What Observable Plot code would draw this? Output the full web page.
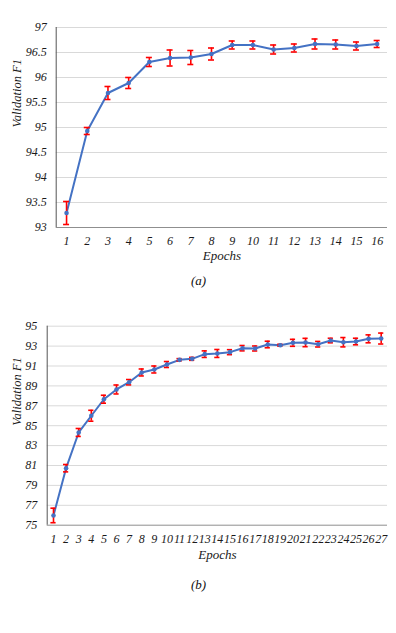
<!DOCTYPE html>
<html><head><meta charset="utf-8">
<script src="https://cdn.jsdelivr.net/npm/d3@7"></script>
<script src="https://cdn.jsdelivr.net/npm/@observablehq/plot@0.6"></script>
<style>
html,body{margin:0;padding:0;background:#fff;}
#wrap{position:relative;width:396px;height:633px;overflow:hidden;}
#wrap svg{position:absolute;left:0;display:block;}
#wrap svg, #wrap svg text, #wrap svg tspan{font-family:"Liberation Serif","Times New Roman",Times,serif !important;font-style:italic;}
</style></head><body><div id="wrap"></div>
<script>
// ---- Chart (a) ----
const epochsA = [1,2,3,4,5,6,7,8,9,10,11,12,13,14,15,16];
const f1A = [93.29, 94.93, 95.69, 95.89, 96.31, 96.39, 96.40, 96.47, 96.65, 96.65, 96.56, 96.59, 96.67, 96.66, 96.63, 96.67];
const errA = [0.23, 0.07, 0.13, 0.11, 0.09, 0.16, 0.14, 0.12, 0.08, 0.08, 0.09, 0.08, 0.10, 0.09, 0.08, 0.07];
const yTicksA = [93, 93.5, 94, 94.5, 95, 95.5, 96, 96.5, 97];

// ---- Chart (b) ----
const epochsB = [1,2,3,4,5,6,7,8,9,10,11,12,13,14,15,16,17,18,19,20,21,22,23,24,25,26,27];
const f1B = [75.98, 80.73, 84.32, 86.00, 87.66, 88.64, 89.37, 90.35, 90.65, 91.15, 91.62, 91.72, 92.19, 92.26, 92.39, 92.79, 92.76, 93.16, 93.09, 93.33, 93.36, 93.19, 93.56, 93.39, 93.46, 93.73, 93.76];
const errB = [0.73, 0.37, 0.40, 0.55, 0.40, 0.45, 0.27, 0.35, 0.35, 0.30, 0.12, 0.15, 0.33, 0.40, 0.25, 0.27, 0.25, 0.33, 0.10, 0.35, 0.42, 0.28, 0.23, 0.47, 0.33, 0.40, 0.55];
const yTicksB = [75, 77, 79, 81, 83, 85, 87, 89, 91, 93, 95];

const xLabel = "Epochs";
const yLabel = "Validation F1";
const FONT = "'Liberation Serif', 'Times New Roman', Times, serif";

function chart(o) {
  const data = o.epochs.map((e, i) => ({e, v: o.f1[i], lo: o.f1[i] - o.err[i], hi: o.f1[i] + o.err[i]}));
  const n = o.epochs.length;
  const plotW = o.width - o.ml - o.mr;
  const capHalf = o.capPx * n / plotW;
  const y0 = o.yTicks[0], y1 = o.yTicks[o.yTicks.length - 1];
  const frameCx = o.ml + plotW / 2;
  return Plot.plot({
    width: o.width, height: o.height,
    marginTop: o.mt, marginBottom: o.mb, marginLeft: o.ml, marginRight: o.mr,
    style: {fontFamily: FONT, fontStyle: "italic", fontSize: "12px", color: "#1a1a1a", background: "#fff", overflow: "visible"},
    x: {domain: [0.5, n + 0.5], ticks: o.epochs, tickSize: 0, tickPadding: o.xPad, tickFormat: d => String(d), label: null},
    y: {domain: [y0, y1], ticks: o.yTicks, tickSize: 0, tickPadding: o.yPad, tickFormat: d => String(d), label: null},
    marks: [
      Plot.gridY(o.yTicks.slice(1), {stroke: "#d9d9d9", strokeOpacity: 1, strokeWidth: 1}),
      Plot.ruleY([y0], {stroke: "#8f8f8f", strokeWidth: 1}),
      Plot.ruleX([0.5], {stroke: "#555", strokeWidth: 1}),
      Plot.line(data, {x: "e", y: "v", stroke: "#4472c4", strokeWidth: 2}),
      Plot.ruleX(data, {x: "e", y1: "lo", y2: "hi", stroke: "#ff0000", strokeWidth: 1.6}),
      Plot.ruleY(data, {y: "hi", x1: d => d.e - capHalf, x2: d => d.e + capHalf, stroke: "#ff0000", strokeWidth: 1.6}),
      Plot.ruleY(data, {y: "lo", x1: d => d.e - capHalf, x2: d => d.e + capHalf, stroke: "#ff0000", strokeWidth: 1.6}),
      Plot.dot(data, {x: "e", y: "v", r: 2.3, fill: "#4472c4", stroke: "none"}),
      Plot.text([xLabel], {frameAnchor: "bottom", dy: o.xLabelDy, fontSize: 13, fontFamily: FONT, fontStyle: "italic", fill: "#1a1a1a"}),
      Plot.text([yLabel], {frameAnchor: "left", rotate: -90, dx: o.yLabelX - o.ml, fontSize: 12.5, fontFamily: FONT, fontStyle: "italic", fill: "#1a1a1a"}),
      Plot.text([o.caption], {frameAnchor: "bottom", dy: o.capDy, dx: 198 - frameCx, fontSize: 13, fontFamily: FONT, fontStyle: "italic", fill: "#111"})
    ]
  });
}

const svgA = chart({
  epochs: epochsA, f1: f1A, err: errA, yTicks: yTicksA,
  width: 396, height: 300, mt: 27, mb: 73, ml: 55.7, mr: 9,
  xPad: 9, yPad: 9.5, xLabelDy: 32, yLabelX: 16, capDy: 57, capPx: 3, caption: "(a)"
});
const svgB = chart({
  epochs: epochsB, f1: f1B, err: errB, yTicks: yTicksB,
  width: 396, height: 333, mt: 25.7, mb: 108.3, ml: 46.7, mr: 9,
  xPad: 9.5, yPad: 10, xLabelDy: 34, yLabelX: 16.7, capDy: 64, capPx: 2.6, caption: "(b)"
});
svgA.style.top = "0px";
svgB.style.top = "300px";
const wrap = document.getElementById("wrap");
wrap.appendChild(svgA);
wrap.appendChild(svgB);
</script>
</body></html>
